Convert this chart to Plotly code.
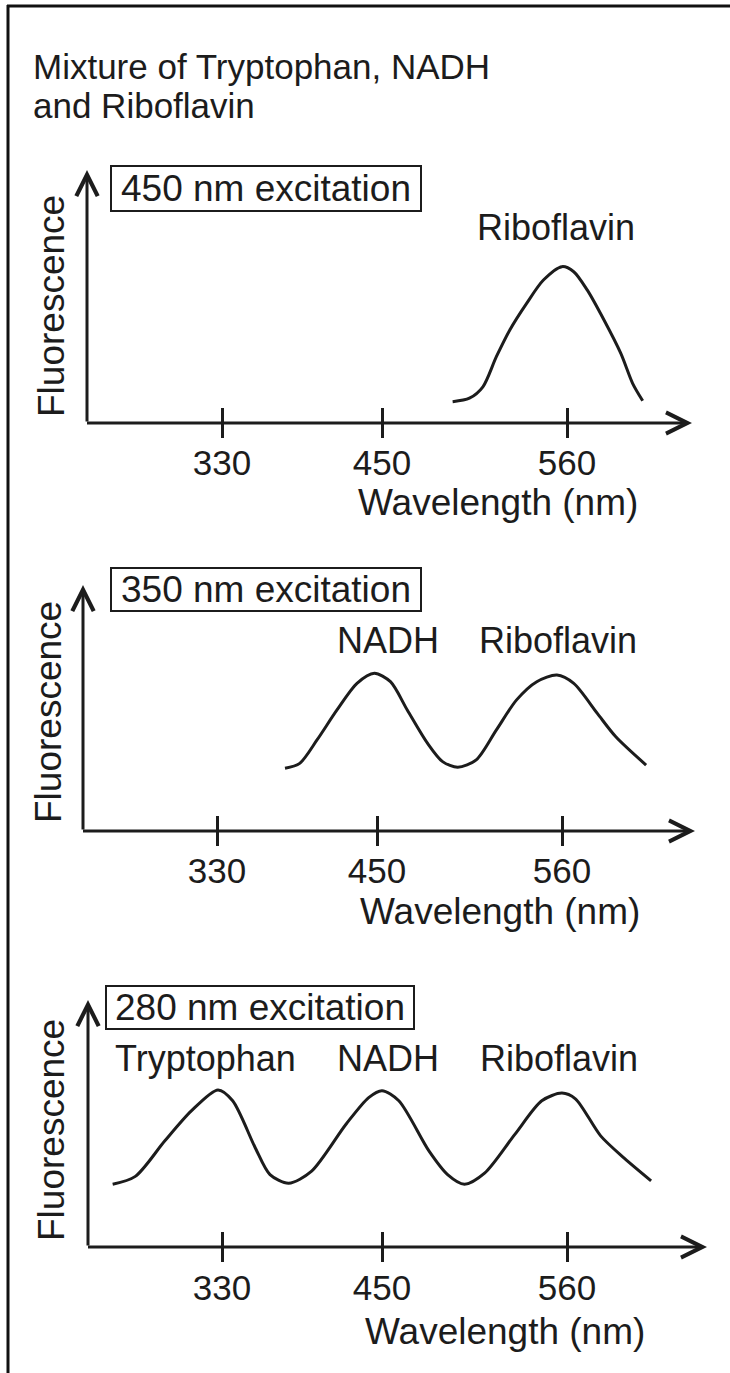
import numpy as np
import plotly.graph_objects as go

W, H = 730, 1373
FONT = "Liberation Sans, Arial, Helvetica, sans-serif"
INK = "#1c1c1c"

# ---------------- data ----------------
TICK_NM = [330, 450, 560]
TICK_LABELS = ["330", "450", "560"]

# 450 nm excitation: riboflavin only
ex450_nm = [492, 502, 510, 518, 526, 536, 546, 557, 564, 572, 582, 592, 599, 605]
ex450_f = [8.4, 9.8, 14.3, 26.2, 36.8, 47.3, 56.5, 61.8, 59.8, 52.6, 40.7, 27.5, 15.7, 8.8]

# 350 nm excitation: NADH + riboflavin
ex350_nm = [381, 392, 405, 420, 435, 448, 458, 468, 480, 489, 498, 509, 521, 533,
            545, 557, 567, 581, 592, 610]
ex350_f = [25.5, 27.5, 37.0, 49.2, 60.0, 64.1, 60.7, 49.2, 35.7, 28.2, 25.9, 28.9,
           41.1, 53.3, 60.7, 63.4, 60.0, 47.8, 38.3, 26.8]

# 280 nm excitation: tryptophan + NADH + riboflavin
ex280_nm = [248, 265, 287, 307, 327, 338, 355, 366, 380, 397, 423, 440, 450, 460,
            478, 489, 499, 511, 529, 545, 557, 565, 580, 594, 610]
ex280_f = [25.4, 28.6, 42.9, 55.1, 63.6, 59.2, 40.1, 29.3, 25.8, 30.6, 49.7, 60.5,
           63.3, 59.2, 38.8, 29.3, 25.4, 29.9, 45.6, 59.2, 62.3, 60.0, 45.0, 36.0, 26.8]

TITLE_LINES = ["Mixture of Tryptophan, NADH", "and Riboflavin"]
EXCITATIONS = ["450 nm excitation", "350 nm excitation", "280 nm excitation"]
PEAK_NAMES = [["Riboflavin"], ["NADH", "Riboflavin"], ["Tryptophan", "NADH", "Riboflavin"]]

# ---------------- schematic (not-to-scale) wavelength axis ----------------
SCALE_POS = [0.0, 160.0, 345.0]  # axis positions of the three tick wavelengths


def to_axis(nm):
    nm = np.asarray(nm, dtype=float)
    lo = (SCALE_POS[1] - SCALE_POS[0]) / (TICK_NM[1] - TICK_NM[0])
    hi = (SCALE_POS[2] - SCALE_POS[1]) / (TICK_NM[2] - TICK_NM[1])
    return np.where(nm < TICK_NM[1],
                    SCALE_POS[0] + (nm - TICK_NM[0]) * lo,
                    SCALE_POS[1] + (nm - TICK_NM[1]) * hi)


# ---------------- layout geometry (pixels) ----------------
panels = [
    dict(x0=87, tip=697, t330=222, axis_y=423, top=170,
         box=(110, 165, 422, 212), peaks_x=[556], peaks_y=228,
         fl=(51, 306), wl=(498, 502), std=1),
    dict(x0=83, tip=700, t330=217, axis_y=831, top=585,
         box=(110, 567, 422, 612), peaks_x=[388, 558], peaks_y=640,
         fl=(48, 712), wl=(500, 911), std=1),
    dict(x0=88, tip=712, t330=222, axis_y=1247, top=1000,
         box=(105, 985, 415, 1030), peaks_x=[205, 388, 559], peaks_y=1058,
         fl=(51, 1130), wl=(505, 1331), std=2),
]
series = [(ex450_nm, ex450_f), (ex350_nm, ex350_f), (ex280_nm, ex280_f)]

TICK_HALF = 15

fig = go.Figure()
annotations = []
layout_axes = {}


def px(xp):
    return xp / W


def py(yp):
    return 1 - yp / H


for i, (p, (nm, fl)) in enumerate(zip(panels, series), start=1):
    xa = "x" if i == 1 else f"x{i}"
    ya = "y" if i == 1 else f"y{i}"
    ppu = (p["axis_y"] - p["top"]) / 100.0
    yrange = [-TICK_HALF / ppu, 100]
    xrange = [p["x0"] - p["t330"], p["tip"] - p["t330"]]

    fig.add_trace(go.Scatter(
        x=to_axis(nm), y=fl, mode="lines", xaxis=xa, yaxis=ya,
        line=dict(color=INK, width=3, shape="spline", smoothing=0.8),
        hoverinfo="skip", showlegend=False))

    layout_axes["xaxis" if i == 1 else f"xaxis{i}"] = dict(
        domain=[px(p["x0"]), px(p["tip"])], range=xrange, anchor=ya,
        showgrid=False, zeroline=False, showline=False,
        tickmode="array", tickvals=list(to_axis(TICK_NM)), ticktext=TICK_LABELS,
        ticks="inside", ticklen=2 * TICK_HALF, tickwidth=3, tickcolor=INK,
        tickfont=dict(family=FONT, size=35, color=INK),
        ticklabelstandoff=p["std"], fixedrange=True)
    layout_axes["yaxis" if i == 1 else f"yaxis{i}"] = dict(
        domain=[py(p["axis_y"] + TICK_HALF), py(p["top"])], range=yrange, anchor=xa,
        showgrid=False, zeroline=False, showline=False, showticklabels=False,
        ticks="", fixedrange=True)

    arrow = dict(showarrow=True, arrowhead=5, arrowsize=1.4, arrowwidth=3,
                 arrowcolor=INK, text="", standoff=0, startstandoff=0)
    # y axis with arrow
    annotations.append(dict(arrow, xref=xa, yref=ya, axref=xa, ayref=ya,
                            x=xrange[0], y=100, ax=xrange[0], ay=0))
    # x axis with arrow
    annotations.append(dict(arrow, xref=xa, yref=ya, axref=xa, ayref=ya,
                            x=xrange[1] - 5, y=0, ax=xrange[0] - 1.5, ay=0))

    # excitation box
    bx0, by0, bx1, by1 = p["box"]
    annotations.append(dict(
        xref="paper", yref="paper", x=px((bx0 + bx1) / 2), y=py((by0 + by1) / 2),
        xanchor="center", yanchor="middle", showarrow=False,
        text=EXCITATIONS[i - 1], width=bx1 - bx0 - 4, height=by1 - by0 - 4,
        bordercolor=INK, borderwidth=2, borderpad=0, bgcolor="white",
        font=dict(family=FONT, size=37, color=INK)))

    # peak names
    for name, cx in zip(PEAK_NAMES[i - 1], p["peaks_x"]):
        annotations.append(dict(
            xref="paper", yref="paper", x=px(cx), y=py(p["peaks_y"]),
            xanchor="center", yanchor="middle", showarrow=False, text=name,
            font=dict(family=FONT, size=36, color=INK)))

    # y axis label
    annotations.append(dict(
        xref="paper", yref="paper", x=px(p["fl"][0]), y=py(p["fl"][1]),
        xanchor="center", yanchor="middle", showarrow=False, text="Fluorescence",
        textangle=-90, font=dict(family=FONT, size=37, color=INK)))

    # x axis label
    annotations.append(dict(
        xref="paper", yref="paper", x=px(p["wl"][0]), y=py(p["wl"][1]),
        xanchor="center", yanchor="middle", showarrow=False,
        text="Wavelength (nm)", font=dict(family=FONT, size=37, color=INK)))

# title
for line, yy in zip(TITLE_LINES, [66, 105]):
    annotations.append(dict(
        xref="paper", yref="paper", x=px(31), y=py(yy), xanchor="left",
        yanchor="middle", showarrow=False, text=line,
        font=dict(family=FONT, size=35, color=INK)))

# frame (left and top edges)
shapes = [
    dict(type="line", xref="paper", yref="paper", x0=px(8), x1=px(8), y0=0, y1=py(5),
         line=dict(color="#111111", width=3)),
    dict(type="line", xref="paper", yref="paper", x0=px(7), x1=1, y0=py(6), y1=py(6),
         line=dict(color="#111111", width=3)),
]

fig.update_layout(
    width=W, height=H, margin=dict(l=0, r=0, t=0, b=0, pad=0),
    paper_bgcolor="white", plot_bgcolor="white",
    annotations=annotations, shapes=shapes, showlegend=False,
    **layout_axes)

fig.write_html("out.html", config=dict(displayModeBar=False))
